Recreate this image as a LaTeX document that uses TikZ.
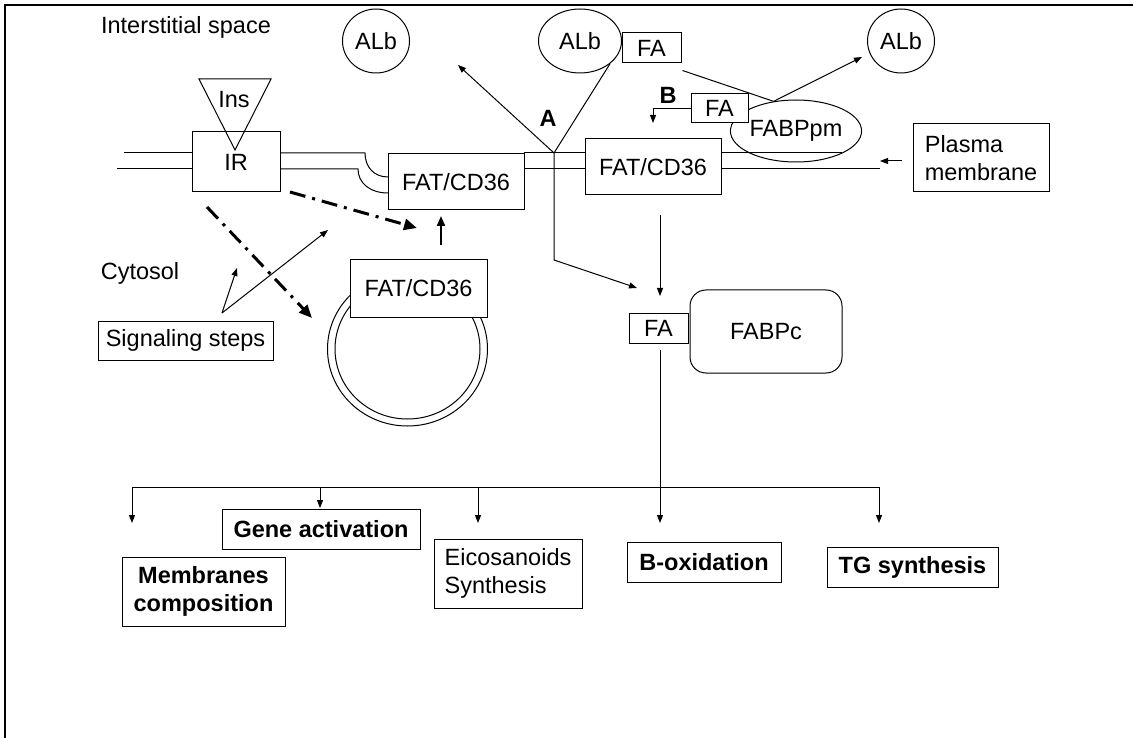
\documentclass[tikz,border=0pt]{standalone}
\usepackage{fontspec}
\setmainfont{Liberation Sans}
\usetikzlibrary{positioning,arrows.meta,shapes.geometric}

\newcommand{\txtsize}{\fontsize{23.5}{28}\selectfont}

\tikzset{
  lbl/.style={font=\txtsize, inner sep=0pt},
  boldlbl/.style={font=\txtsize\bfseries, inner sep=0pt},
  box/.style={lbl, draw, fill=white, rectangle},
  albu/.style={lbl, draw, ellipse, minimum width=67pt, minimum height=64pt},
  outbox/.style={box, font=\txtsize\bfseries, align=center},
  thinarr/.style={-{Triangle[length=8pt,width=6pt]}},
  dashdot/.style={line width=3pt, dash pattern=on 16pt off 7pt on 3pt off 7pt,
                  -{Triangle[length=13pt,width=11pt]}},
}

\begin{document}
\begin{tikzpicture}[x=1pt,y=-1pt,line width=1pt]
    \useasboundingbox (0,0) rectangle (1133,738);
    \draw[line width=2pt] (5,738) -- (5,5) -- (1133,5);

    \node[lbl] (inter) at (186,27) {Interstitial space};
    \node[lbl] (cyto) at (140,273) {Cytosol};

    % membrane
    \draw (124,153) -- (192,153) (117,169) -- (192,169);
    \draw (280,153) -- (365,153) .. controls (365,167) and (374,177) .. (388,177);
    \draw (280,169) -- (358,169) .. controls (358,183) and (370,193) .. (388,193);
    \draw (524,153) -- (585,153) (524,169) -- (585,169);
    \draw (721,153) -- (842,153) (721,169) -- (880,169);

    \node[box, minimum width=88pt, minimum height=60pt] (ir) at (236,162) {IR};
    \node[box, minimum width=136pt, minimum height=56pt] (fatL) at (456,182) {FAT/CD36};
    \node[box, minimum width=136pt, minimum height=56pt] (fatR) at (653,167) {FAT/CD36};

    \coordinate (insA) at (199,79);
    \coordinate (insB) at (271,79);
    \coordinate (insC) at (235,150);
    \draw (insA) -- (insB) -- (insC) -- cycle;
    \node[lbl] (ins) at (234,100) {Ins};

    \node[albu] (alb1) at (376,41) {ALb};
    \node[albu, minimum width=83pt] (alb2) at (580,41) {ALb};
    \node[albu] (alb3) at (901,41) {ALb};
    \node[box, minimum width=59pt, minimum height=30pt] (fa1) at (651.5,48) {FA};
    \node[lbl, draw, ellipse, minimum width=122pt, minimum height=62pt] (fabppm) at (796,131) {FABPpm};
    \node[box, minimum width=57pt, minimum height=29pt] (fa2) at (719.5,108.5) {FA};

    \coordinate (tipR) at (862,57);
    \draw ([shift={(1,7)}]fa1.south east) -- (fabppm.127);
    \draw[thinarr] (fabppm.127) -- (tipR);

    \node[boldlbl] (labB) at (668,95) {B};
    \coordinate (tipB) at (653,123);
    \draw[thinarr] (fa2.west) -| (tipB);

    \node[boldlbl] (labA) at (548,118) {A};
    \coordinate (jA) at (554,153);
    \coordinate (tipL) at (458,65);
    \coordinate (bendA) at (554,260);
    \coordinate (tipFA) at (637,288);
    \draw[thinarr] (jA) -- (tipL);
    \draw (jA) -- (alb2.-37);
    \draw[thinarr] (jA) -- (bendA) -- (tipFA);

    \coordinate (fatRout) at (660,215);
    \coordinate (tipC) at (660,296);
    \draw[thinarr] (fatRout) -- (tipC);

    \node[box, minimum width=59pt, minimum height=30pt] (fa3) at (658.5,328) {FA};
    \node[box, rounded corners=16pt, minimum width=152pt, minimum height=83pt] (fabpc) at (766,331.5) {FABPc};

    % vesicle
    \draw (407.5,349) ellipse [x radius=80pt, y radius=77pt];
    \draw (407.5,349) ellipse [x radius=72.5pt, y radius=70pt];
    \node[box, minimum width=137pt, minimum height=57pt] (fatV) at (418.5,288.5) {FAT/CD36};

    \coordinate (upS) at (441,245);
    \coordinate (upE) at (441,216);
    \draw[line width=2pt, -{Triangle[length=10pt,width=8pt]}] (upS) -- (upE);

    \coordinate (irA) at (290,192);
    \coordinate (tipD1) at (417,228);
    \coordinate (irB) at (207,207);
    \coordinate (tipD2) at (312,318);
    \draw[dashdot] (irA) -- (tipD1);
    \draw[dashdot] (irB) -- (tipD2);

    \node[box, minimum width=175pt, minimum height=39pt] (sig) at (185.5,340.5) {Signaling steps};
    \coordinate (sigO) at (222,313);
    \coordinate (tipS1) at (237,268);
    \coordinate (tipS2) at (328,230);
    \draw[thinarr] (sigO) -- (tipS1);
    \draw[thinarr] (sigO) -- (tipS2);

    \node[box, align=left, minimum width=136pt, minimum height=68pt] (pm) at (981,158) {Plasma\\membrane};
    \coordinate (pmA) at (902,161);
    \coordinate (tipP) at (880,161);
    \draw[thinarr] (pmA) -- (tipP);

    % outcomes
    \node[outbox, minimum width=198pt, minimum height=40pt] (gene) at (321,529) {Gene activation};
    \node[outbox, minimum width=163pt, minimum height=69pt] (membr) at (203.5,591.5) {Membranes\\composition};
    \node[box, align=left, minimum width=148pt, minimum height=69pt] (eico) at (508,573.5) {Eicosanoids\\Synthesis};
    \node[outbox, minimum width=154pt, minimum height=40pt] (boxid) at (704,562) {B-oxidation};
    \node[outbox, minimum width=171pt, minimum height=40pt] (tg) at (912.5,567) {TG synthesis};

    \coordinate (faOut) at (660,350);
    \coordinate (tipBox) at (660,523);
    \draw[thinarr] (faOut) -- (tipBox);
    \foreach \xx/\yy [count=\i] in {132/523, 320/508, 478/523, 879/523} {
        \coordinate (br\i) at (\xx,487);
        \coordinate (tipO\i) at (\xx,\yy);
        \draw[thinarr] (br\i) -- (tipO\i);
    }
    \draw (br1) -- (br4);

\end{tikzpicture}
\end{document}
